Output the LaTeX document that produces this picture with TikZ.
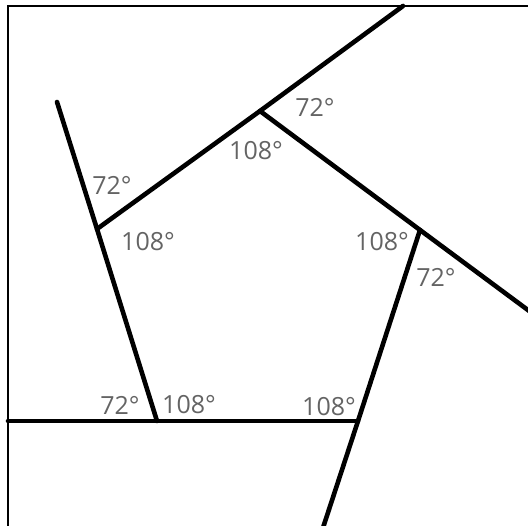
\documentclass[tikz,border=0pt]{standalone}
\usepackage{fontspec}
\setmainfont{Open Sans}
\usetikzlibrary{calc}
\definecolor{anglegray}{HTML}{646464}

\begin{document}
\begin{tikzpicture}[
  x=1pt, y=-1pt,
  side/.style={line width=4.6pt, line cap=round},
  frameline/.style={line width=1.4pt},
  ang/.style={text=anglegray, inner sep=0pt,
              font=\fontsize{25}{28}\selectfont}
]
\useasboundingbox (0,0) rectangle (528,526);

% Frame
\draw[frameline] (8,540) -- (8,6) -- (540,6);

% Pentagon corners
\coordinate (ptop) at (260,111);
\coordinate (pright) at (420,230);
\coordinate (pbr) at (358,421);
\coordinate (pbl) at (157,421);
\coordinate (pleft) at (97,229);

% Free ends of the extended sides
\coordinate (etop) at (403,6);
\coordinate (eright) at (540,319);
\coordinate (ebr) at (319,540);
\coordinate (ebl) at (8,421);
\coordinate (eleft) at (57,102);

% Sides
\draw[side] (pleft) -- (ptop) -- (etop);
\draw[side] (ptop) -- (pright) -- (eright);
\draw[side] (pright) -- (pbr) -- (ebr);
\draw[side] (pbr) -- (pbl) -- (ebl);
\draw[side] (pbl) -- (pleft) -- (eleft);

% Angles
\node[ang] (a1) at (315,107) {72°};
\node[ang] (a2) at (256,151) {108°};
\node[ang] (a3) at (112,185) {72°};
\node[ang] (a4) at (148,242) {108°};
\node[ang] (a5) at (382,242) {108°};
\node[ang] (a6) at (436,277) {72°};
\node[ang] (a7) at (120,405) {72°};
\node[ang] (a8) at (189,405) {108°};
\node[ang] (a9) at (329,407) {108°};

\end{tikzpicture}
\end{document}
